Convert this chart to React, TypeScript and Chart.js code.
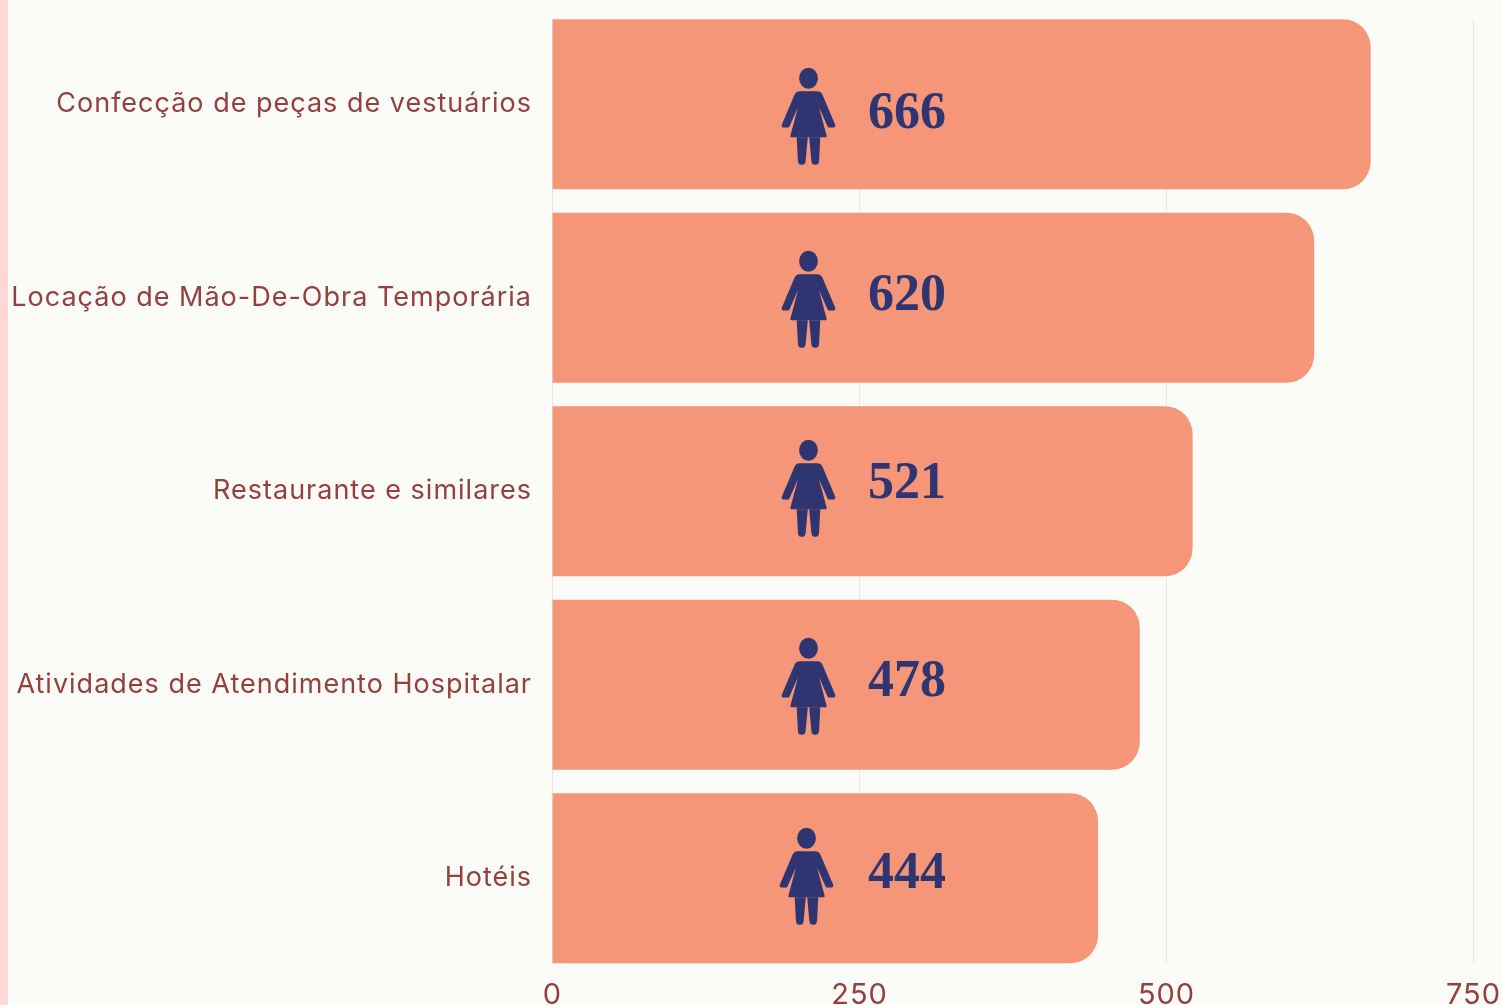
import React, { useEffect, useRef } from "react";
import { Chart, registerables } from "chart.js";

Chart.register(...registerables);

const categories = [
  "Confecção de peças de vestuários",
  "Locação de Mão-De-Obra Temporária",
  "Restaurante e similares",
  "Atividades de Atendimento Hospitalar",
  "Hotéis",
];
const womenCount = [666, 620, 521, 478, 444];
const axisTicks = [0, 250, 500, 750];

const INK = "#2E3570";
const BAR = "#F69679";
const TEXT = "#94403F";
const GRID = "#EEE3DF";
const LABEL_FONT = "Inter";

// hand placed annotations of the original, relative to each bar's centre
const iconX = [808.5, 808.5, 808.5, 808.5, 806.5];
const iconDy = [12, 1.5, -3, 1.5, -2];
const numberDy = [10, -1, -7, -2, -4];
const NUMBER_X = 907;

function drawWoman(ctx: CanvasRenderingContext2D, cx: number, cy: number) {
  ctx.save();
  ctx.translate(cx, cy);
  ctx.fillStyle = INK;
  ctx.beginPath();
  ctx.ellipse(0, -38, 9.4, 10.6, 0, 0, Math.PI * 2);
  ctx.fill();
  // torso, arms, skirt
  const body = new Path2D(
    "M-9 -25 C-11 -25 -13 -24 -14 -21.5 L-26.5 8 C-27.5 10.5 -26.5 11.3 -24 11.3 L-21 11.3 C-19.5 11.3 -19 10.5 -18.5 9 L-10.5 -9 L-18 19 C-18.5 20.5 -18 21 -16.5 21 L16.5 21 C18 21 18.5 20.5 18 19 L10.5 -9 L18.5 9 C19 10.5 19.5 11.3 21 11.3 L24 11.3 C26.5 11.3 27.5 10.5 26.5 8 L14 -21.5 C13 -24 11 -25 9 -25 Z"
  );
  ctx.fill(body);
  // legs
  const legs = new Path2D(
    "M-11.8 21 L-0.7 21 L-2.8 44 C-3.2 48 -4.5 48.5 -6.5 48.5 C-9 48.5 -10.3 48 -10.6 44 Z M0.7 21 L11.8 21 L10.6 44 C10.3 48 9 48.5 6.5 48.5 C4.5 48.5 3.2 48 2.8 44 Z"
  );
  ctx.fill(legs);
  ctx.restore();
}

const gridPlugin = {
  id: "shortGrid",
  beforeLayout(chart: any) {
    chart.ctx.letterSpacing = "1px";
  },
  beforeDatasetsDraw(chart: any) {
    const { ctx, scales } = chart;
    const bars = chart.getDatasetMeta(0).data;
    const top = bars[0].y - bars[0].height / 2;
    const last = bars[bars.length - 1];
    const bottom = last.y + last.height / 2;
    ctx.save();
    ctx.strokeStyle = GRID;
    ctx.lineWidth = 1;
    axisTicks.forEach((t) => {
      const x = scales.x.getPixelForValue(t);
      ctx.beginPath();
      ctx.moveTo(x, top);
      ctx.lineTo(x, bottom);
      ctx.stroke();
    });
    ctx.restore();
  },
};

const annotationPlugin = {
  id: "pictograms",
  afterDatasetsDraw(chart: any) {
    const { ctx } = chart;
    const bars = chart.getDatasetMeta(0).data;
    bars.forEach((bar: any, i: number) => {
      drawWoman(ctx, iconX[i], bar.y + iconDy[i]);
      ctx.save();
      ctx.letterSpacing = "0px";
      ctx.fillStyle = INK;
      ctx.font = "bold 52px 'Liberation Serif'";
      ctx.textAlign = "center";
      ctx.textBaseline = "middle";
      ctx.fillText(String(womenCount[i]), NUMBER_X, bar.y + numberDy[i]);
      ctx.restore();
    });
  },
};

export default function App() {
  const ref = useRef<HTMLCanvasElement>(null);
  useEffect(() => {
    document.body.style.margin = "0";
    const chart = new Chart(ref.current!, {
      type: "bar",
      data: {
        labels: categories,
        datasets: [
          {
            data: womenCount,
            backgroundColor: BAR,
            barThickness: 169.5,
            borderSkipped: false,
            borderRadius: { topLeft: 0, bottomLeft: 0, topRight: 28, bottomRight: 28 },
          },
        ],
      },
      options: {
        indexAxis: "y",
        animation: false,
        responsive: false,
        layout: { padding: { top: 7.5, right: 28.5, left: 0, bottom: 0 } },
        plugins: { legend: { display: false }, tooltip: { enabled: false } },
        scales: {
          x: {
            min: 0,
            max: 750,
            afterBuildTicks: (s: any) => {
              s.ticks = axisTicks.map((value) => ({ value }));
            },
            afterFit: (s: any) => {
              s.height = 30;
              s.paddingLeft = 0;
              s.paddingRight = 0;
            },
            grid: { display: false, drawTicks: false },
            border: { display: false },
            ticks: {
              color: TEXT,
              maxRotation: 0,
              autoSkip: false,
              padding: 3,
              font: { family: LABEL_FONT, size: 29 },
            },
          },
          y: {
            afterFit: (s: any) => {
              s.width = 552.5;
              s.paddingTop = 0;
              s.paddingBottom = 0;
            },
            grid: { display: false, drawTicks: false },
            border: { display: false },
            ticks: {
              color: TEXT,
              padding: 20.5,
              autoSkip: false,
              font: { family: LABEL_FONT, size: 27 },
            },
          },
        },
      },
      plugins: [gridPlugin, annotationPlugin],
    } as any);
    return () => chart.destroy();
  }, []);
  return (
    <div
      style={{
        position: "relative",
        width: 1502,
        height: 1005,
        overflow: "hidden",
        background: "linear-gradient(90deg, #FDD8D6 0, #FDD8D6 8px, #FBFBF8 8px)",
      }}
    >
      <canvas ref={ref} width={1502} height={1005} style={{ display: "block" }} />
    </div>
  );
}
